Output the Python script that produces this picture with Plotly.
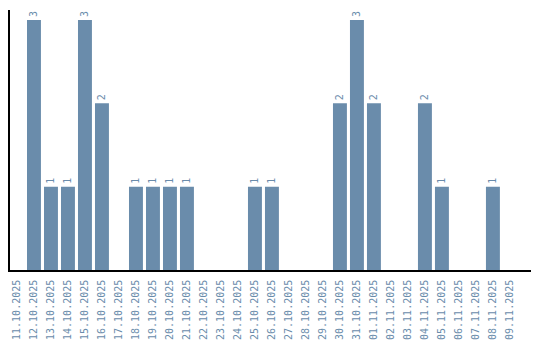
import plotly.graph_objects as go

dates = ["11.10.2025","12.10.2025","13.10.2025","14.10.2025","15.10.2025","16.10.2025",
         "17.10.2025","18.10.2025","19.10.2025","20.10.2025","21.10.2025","22.10.2025",
         "23.10.2025","24.10.2025","25.10.2025","26.10.2025","27.10.2025","28.10.2025",
         "29.10.2025","30.10.2025","31.10.2025","01.11.2025","02.11.2025","03.11.2025",
         "04.11.2025","05.11.2025","06.11.2025","07.11.2025","08.11.2025","09.11.2025"]
counts = [0,3,1,1,3,2,0,1,1,1,1,0,0,0,1,1,0,0,0,2,3,2,0,0,2,1,0,0,1,0]

color = "#6a8cab"
labels = [str(c) if c > 0 else "" for c in counts]

fig = go.Figure(go.Bar(
    x=dates, y=counts, marker_color=color, marker_line_width=0,
    text=labels, textposition="outside", textangle=-90,
    textfont=dict(family="DejaVu Sans Mono", size=10, color=color),
    cliponaxis=False,
))
fig.update_layout(
    width=540, height=340,
    margin=dict(l=10, r=9, t=10, b=70),
    plot_bgcolor="white", paper_bgcolor="white",
    bargap=0.18, showlegend=False,
    font=dict(family="DejaVu Sans Mono", size=10, color=color),
)
fig.update_xaxes(type="category", range=[-0.41, 30.24], tickangle=-90, showline=True,
                 linecolor="black", linewidth=1.5, showgrid=False, automargin=False,
                 ticks="outside", ticklen=4, tickcolor="rgba(0,0,0,0)",
                 tickfont=dict(family="DejaVu Sans Mono", size=10, color=color))
fig.update_yaxes(range=[0, 3.12], showline=True, linecolor="black", linewidth=1.5,
                 showgrid=False, showticklabels=False, ticks="", zeroline=False,
                 automargin=False)
fig.write_html("out.html")
